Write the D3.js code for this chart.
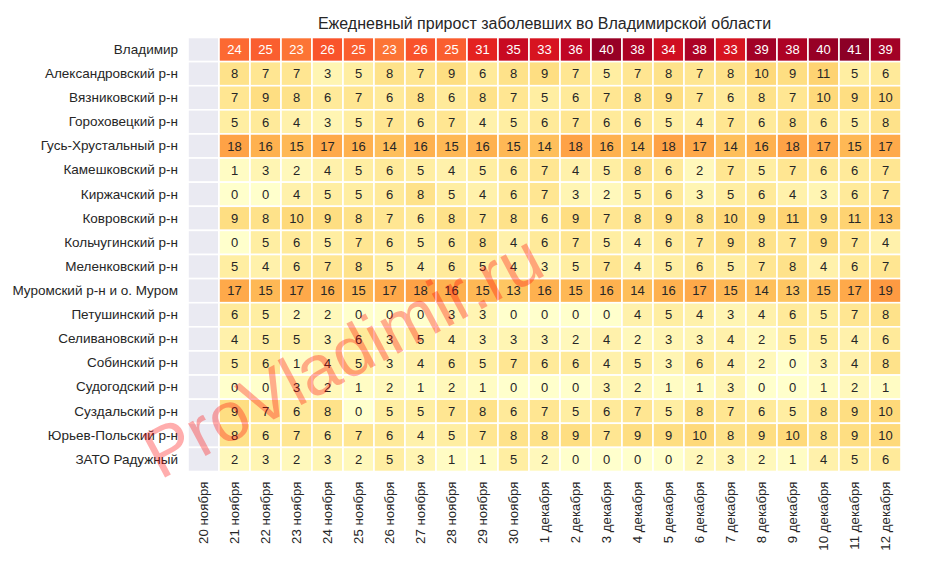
<!DOCTYPE html>
<html>
<head>
<meta charset="utf-8">
<script src="https://cdn.jsdelivr.net/npm/d3@7"></script>
<style>
  html, body { margin: 0; padding: 0; background: #ffffff; }
  svg { display: block; font-family: "Liberation Sans", Arial, sans-serif; }
</style>
</head>
<body>
<svg id="chart" width="934" height="574"></svg>
<script>
// ---- data ----
const dates = ["20 ноября","21 ноября","22 ноября","23 ноября","24 ноября","25 ноября","26 ноября",
  "27 ноября","28 ноября","29 ноября","30 ноября","1 декабря","2 декабря","3 декабря","4 декабря",
  "5 декабря","6 декабря","7 декабря","8 декабря","9 декабря","10 декабря","11 декабря","12 декабря"];

const regions = ["Владимир","Александровский р-н","Вязниковский р-н","Гороховецкий р-н",
  "Гусь-Хрустальный р-н","Камешковский р-н","Киржачский р-н","Ковровский р-н","Кольчугинский р-н",
  "Меленковский р-н","Муромский р-н и о. Муром","Петушинский р-н","Селивановский р-н",
  "Собинский р-н","Судогодский р-н","Суздальский р-н","Юрьев-Польский р-н","ЗАТО Радужный"];

// values from 21 ноября to 12 декабря (20 ноября has no data)
const vladimir        = [24,25,23,26,25,23,26,25,31,35,33,36,40,38,34,38,33,39,38,40,41,39];
const aleksandrovsky  = [8,7,7,3,5,8,7,9,6,8,9,7,5,7,8,7,8,10,9,11,5,6];
const vyaznikovsky    = [7,9,8,6,7,6,8,6,8,7,5,6,7,8,9,7,6,8,7,10,9,10];
const gorokhovetsky   = [5,6,4,3,5,7,6,7,4,5,6,7,6,6,5,4,7,6,8,6,5,8];
const gusKhrustalny   = [18,16,15,17,16,14,16,15,16,15,14,18,16,14,18,17,14,16,18,17,15,17];
const kameshkovsky    = [1,3,2,4,5,6,5,4,5,6,7,4,5,8,6,2,7,5,7,6,6,7];
const kirzhachsky     = [0,0,4,5,5,6,8,5,4,6,7,3,2,5,6,3,5,6,4,3,6,7];
const kovrovsky       = [9,8,10,9,8,7,6,8,7,8,6,9,7,8,9,8,10,9,11,9,11,13];
const kolchuginsky    = [0,5,6,5,7,6,5,6,8,4,6,7,5,4,6,7,9,8,7,9,7,4];
const melenkovsky     = [5,4,6,7,8,5,4,6,5,4,3,5,7,4,5,6,5,7,8,4,6,7];
const muromsky        = [17,15,17,16,15,17,18,16,15,13,16,15,16,14,16,17,15,14,13,15,17,19];
const petushinsky     = [6,5,2,2,0,0,0,3,3,0,0,0,0,4,5,4,3,4,6,5,7,8];
const selivanovsky    = [4,5,5,3,6,3,5,4,3,3,3,2,4,2,3,3,4,2,5,5,4,6];
const sobinsky        = [5,6,1,4,5,3,4,6,5,7,6,6,4,5,3,6,4,2,0,3,4,8];
const sudogodsky      = [0,0,3,2,1,2,1,2,1,0,0,0,3,2,1,1,3,0,0,1,2,1];
const suzdalsky       = [9,7,6,8,0,5,5,7,8,6,7,5,6,7,5,8,7,6,5,8,9,10];
const yuryevPolsky    = [8,6,7,6,7,6,4,5,7,8,8,9,7,9,9,10,8,9,10,8,9,10];
const zatoRaduzhny    = [2,3,2,3,2,5,3,1,1,5,2,0,0,0,0,2,3,2,1,4,5,6];

const rowsData = [vladimir, aleksandrovsky, vyaznikovsky, gorokhovetsky, gusKhrustalny,
  kameshkovsky, kirzhachsky, kovrovsky, kolchuginsky, melenkovsky, muromsky, petushinsky,
  selivanovsky, sobinsky, sudogodsky, suzdalsky, yuryevPolsky, zatoRaduzhny];

const title = "Ежедневный прирост заболевших во Владимирской области";
const watermark = "ProVladimir.ru";

// ---- build cells ----
const cells = [];
regions.forEach((r, i) => {
  dates.forEach((d, j) => {
    const v = j === 0 ? null : rowsData[i][j - 1];
    cells.push({ region: r, date: d, value: v });
  });
});

// ---- layout ----
const mLeft = 188, mRight = 901, mTop = 37.5, mBottom = 471.5;
const svg = d3.select("#chart");

const x = d3.scaleBand().domain(dates).range([mLeft, mRight]).padding(0);
const y = d3.scaleBand().domain(regions).range([mTop, mBottom]).padding(0);
const color = d3.scaleSequential(d3.interpolateYlOrRd).domain([0, 42]);

function luminance(c) {
  const rgb = d3.rgb(c);
  const f = v => { v /= 255; return v <= 0.03928 ? v / 12.92 : Math.pow((v + 0.055) / 1.055, 2.4); };
  return 0.2126 * f(rgb.r) + 0.7152 * f(rgb.g) + 0.0722 * f(rgb.b);
}

// background (axes face)
svg.append("rect")
  .attr("x", mLeft).attr("y", mTop)
  .attr("width", mRight - mLeft).attr("height", mBottom - mTop)
  .attr("fill", "#eaeaf2");

const g = svg.append("g");
g.selectAll("rect.cell")
  .data(cells)
  .join("rect")
  .attr("class", "cell")
  .attr("x", d => x(d.date))
  .attr("y", d => y(d.region))
  .attr("width", x.bandwidth())
  .attr("height", y.bandwidth())
  .attr("fill", d => d.value === null ? "#eaeaf2" : color(d.value))
  .attr("stroke", "#ffffff")
  .attr("stroke-width", 1.6);

g.selectAll("text.val")
  .data(cells.filter(d => d.value !== null))
  .join("text")
  .attr("class", "val")
  .attr("x", d => x(d.date) + x.bandwidth() / 2)
  .attr("y", d => y(d.region) + y.bandwidth() / 2)
  .attr("dy", "0.36em")
  .attr("text-anchor", "middle")
  .attr("font-size", 13)
  .attr("fill", d => luminance(color(d.value)) < 0.408 ? "#ffffff" : "#262626")
  .text(d => d.value);

// y axis labels
const yAxis = d3.axisLeft(y).tickSize(0).tickPadding(10);
const ya = svg.append("g").attr("transform", `translate(${mLeft},0)`).call(yAxis);
ya.select(".domain").remove();
ya.selectAll("text").attr("font-size", 13.5).attr("fill", "#262626")
  .attr("font-family", "Liberation Sans, Arial, sans-serif");

// x axis labels
const xAxis = d3.axisBottom(x).tickSize(0).tickPadding(0);
const xa = svg.append("g").attr("transform", `translate(0,${mBottom})`).call(xAxis);
xa.select(".domain").remove();
xa.selectAll("text")
  .attr("font-size", 13.3).attr("fill", "#262626")
  .attr("font-family", "Liberation Sans, Arial, sans-serif")
  .attr("text-anchor", "end")
  .attr("transform", "rotate(-90)")
  .attr("x", -10).attr("y", 0).attr("dy", "0.35em");

// title
svg.append("text")
  .attr("x", (mLeft + mRight) / 2).attr("y", 29)
  .attr("text-anchor", "middle")
  .attr("font-size", 16).attr("fill", "#262626")
  .text(title);

// watermark
svg.append("text")
  .attr("transform", "translate(354,377) rotate(-28)")
  .attr("text-anchor", "middle")
  .attr("font-size", 70)
  .attr("fill", "#ff0000")
  .attr("fill-opacity", 0.32)
  .text(watermark);
</script>
</body>
</html>
